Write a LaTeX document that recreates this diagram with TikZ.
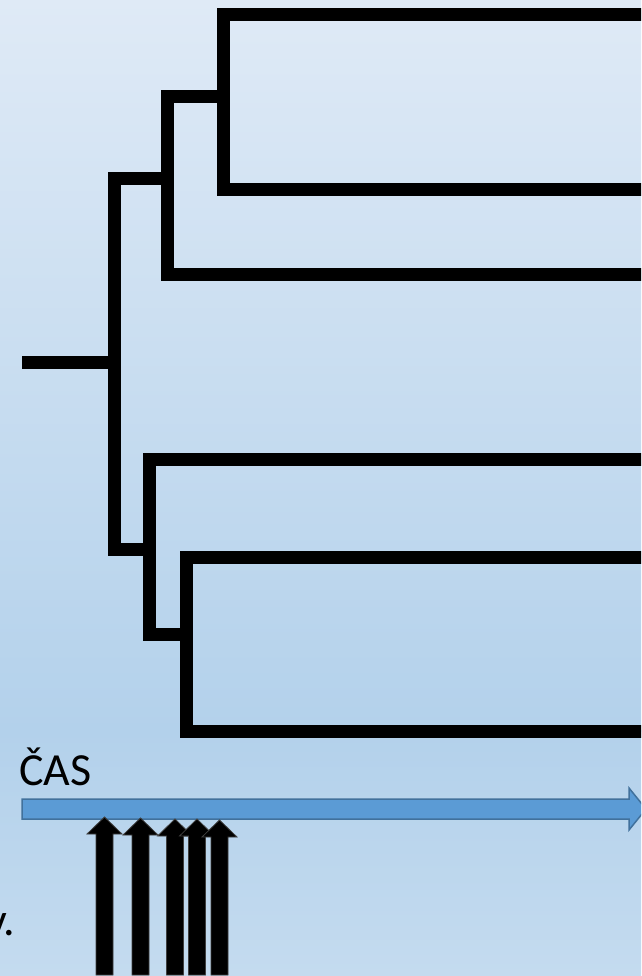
\documentclass[tikz,border=0pt]{standalone}
\usepackage{fontspec}
\setmainfont{Carlito}
\definecolor{bgtop}{HTML}{DFEAF6}
\definecolor{bgmid}{HTML}{B3D1EB}
\definecolor{bgbot}{HTML}{C4DBEF}
\definecolor{timefill}{HTML}{5B9BD5}
\definecolor{timeedge}{HTML}{41719C}
\tikzset{
  branch/.style={line width=13pt, draw=black, line join=miter, line cap=butt},
  timearrow/.style={fill=timefill, draw=timeedge, line width=1.5pt, line join=miter},
  uparrow/.style={fill=black, draw=black!75, line width=0.8pt, line join=miter},
  label/.style={inner sep=0pt, outer sep=0pt, text=black}
}
\begin{document}
\begin{tikzpicture}[x=1pt, y=-1pt]
\useasboundingbox (0,0) rectangle (641,976);
\clip (0,0) rectangle (641,976);
% background
\shade[top color=bgtop, bottom color=bgmid] (0,0) rectangle (641,731);
\shade[top color=bgmid, bottom color=bgbot] (0,730) rectangle (641,976);

% tree coordinates
\coordinate (root) at (22,362.5);
\coordinate (n3r) at (114,362.5);
\coordinate (n3t) at (114,179);
\coordinate (n3b) at (114,549.5);
\coordinate (n2c) at (167.5,179);
\coordinate (n2t) at (167.5,97);
\coordinate (n2b) at (167.5,274);
\coordinate (n1c) at (223.5,97);
\coordinate (n1t) at (223.5,14.5);
\coordinate (n1b) at (223.5,189.5);
\coordinate (n4c) at (149,549.5);
\coordinate (n4t) at (149,459.5);
\coordinate (n4b) at (149,634.5);
\coordinate (n5c) at (186,634.5);
\coordinate (n5t) at (186,557);
\coordinate (n5b) at (186,731);
\coordinate (leafA) at (660,14.5);
\coordinate (leafB) at (660,189.5);
\coordinate (leafC) at (660,274);
\coordinate (leafD) at (660,459.5);
\coordinate (leafE) at (660,557);
\coordinate (leafF) at (660,731);

% tree branches
\draw[branch] (root) -- (n3r);
\draw[branch] (n2c) -- (n3t) -- (n3b) -- (n4c);
\draw[branch] (n1c) -- (n2t) -- (n2b) -- (leafC);
\draw[branch] (leafA) -- (n1t) -- (n1b) -- (leafB);
\draw[branch] (n5c) -- (n4b) -- (n4t) -- (leafD);
\draw[branch] (leafE) -- (n5t) -- (n5b) -- (leafF);

% time axis
\draw[timearrow] (22,799) -- (629,799) -- (629,788) -- (646,809)
  -- (629,830) -- (629,819) -- (22,819) -- cycle;
\node[label, anchor=base west, font=\fontsize{46}{54}\selectfont] (cas) at (19,785) {ČAS};
\node[label, anchor=base east, font=\fontsize{46}{54}\selectfont] (vtext) at (15,935) {v.};

% upward arrows
\foreach \cx/\ty in {104.5/817, 140.5/818, 175/819, 197/819, 219.5/820}{
  \draw[uparrow] (\cx-8.5,975) -- (\cx-8.5,\ty+17) -- (\cx-17.5,\ty+17)
    -- (\cx,\ty) -- (\cx+17.5,\ty+17) -- (\cx+8.5,\ty+17) -- (\cx+8.5,975) -- cycle;
}
\end{tikzpicture}
\end{document}
